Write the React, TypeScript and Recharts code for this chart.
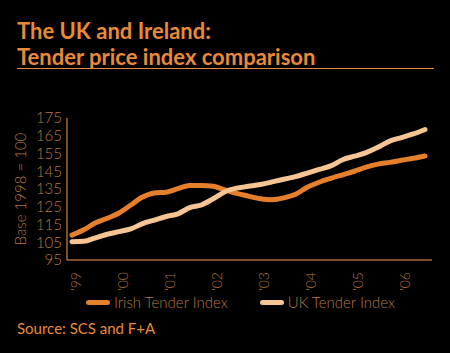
import React from "react"
import { LineChart, Line, XAxis, YAxis } from "recharts"

const quarters = [
  "1999 Q1", "1999 Q2", "1999 Q3", "1999 Q4",
  "2000 Q1", "2000 Q2", "2000 Q3", "2000 Q4",
  "2001 Q1", "2001 Q2", "2001 Q3", "2001 Q4",
  "2002 Q1", "2002 Q2", "2002 Q3", "2002 Q4",
  "2003 Q1", "2003 Q2", "2003 Q3", "2003 Q4",
  "2004 Q1", "2004 Q2", "2004 Q3", "2004 Q4",
  "2005 Q1", "2005 Q2", "2005 Q3", "2005 Q4",
  "2006 Q1", "2006 Q2", "2006 Q3",
]

const irish = [
  109, 112, 116, 118.5, 121.5, 126, 130.5, 132.8,
  133.2, 135.2, 137, 137, 136.5, 134.5, 132.5, 131,
  129.5, 129, 130, 132, 136, 138.8, 141, 143,
  145, 147.3, 149, 150, 151.2, 152.3, 153.6,
]

const uk = [
  105.3, 105.5, 107.5, 109.5, 111, 112.5, 115.5, 117.5,
  119.5, 121, 124.5, 126, 129.5, 133.5, 135.5, 136.5,
  137.5, 139, 140.5, 142, 144, 146, 148, 151.5,
  153.5, 155.5, 158.5, 162, 164, 166, 168.5,
]

const yearTicks = ["1999 Q1", "2000 Q1", "2001 Q1", "2002 Q1", "2003 Q1", "2004 Q1", "2005 Q1", "2006 Q1"]
const yearLabels = ["'99", "'00", "'01", "'02", "'03", "'04", "'05", "'06"]
const yTicks = [95, 105, 115, 125, 135, 145, 155, 165, 175]

const seriesNames = ["Irish Tender Index", "UK Tender Index"]

const data = quarters.map((q, i) => ({ quarter: q, irish: irish[i], uk: uk[i] }))

const ORANGE = "#e98a38"
const DARK_LINE = "#e57f2b"
const LIGHT_LINE = "#f6c593"
const AXIS = "#a86a34"
const TICK_TEXT = "#b5773f"
const FONT = "Lato, 'Open Sans', sans-serif"

function YearTick({ x, y, payload }: any) {
  const idx = yearTicks.indexOf(payload.value)
  return (
    <text
      transform={`translate(${x + 4},${y + 4}) rotate(-90)`}
      textAnchor="end"
      dy="0.35em"
      fill={TICK_TEXT}
      fontSize={14}
      fontFamily={FONT}
      fontWeight={300}
    >
      {yearLabels[idx]}
    </text>
  )
}

const legendItems = [
  { name: seriesNames[0], color: DARK_LINE },
  { name: seriesNames[1], color: LIGHT_LINE },
]

export default function App() {
  return (
    <div style={{ position: "absolute", top: 0, left: 0, width: 450, height: 353, background: "#000", overflow: "hidden" }}>
      <div style={{ position: "absolute", left: 17, top: 17, color: ORANGE, fontFamily: FONT, fontWeight: 700, fontSize: 22, lineHeight: "27px" }}>
        The UK and Ireland:
      </div>
      <div style={{ position: "absolute", left: 17, top: 43, color: ORANGE, fontFamily: FONT, fontWeight: 700, fontSize: 22, lineHeight: "27px" }}>
        Tender price index comparison
      </div>
      <div style={{ position: "absolute", left: 17, top: 68, width: 417, height: 1, background: ORANGE }} />

      <LineChart width={450} height={353} data={data} margin={{ top: 118, right: 18, bottom: 63, left: 0 }}>
        <XAxis
          dataKey="quarter"
          ticks={yearTicks}
          interval={0}
          tick={<YearTick />}
          tickLine={false}
          axisLine={{ stroke: AXIS, strokeWidth: 1.5 }}
          padding={{ left: 5, right: 7 }}
          height={30}
        />
        <YAxis
          domain={[95, 175]}
          ticks={yTicks}
          interval={0}
          width={67}
          tickLine={false}
          tickSize={0}
          tickMargin={5}
          axisLine={{ stroke: AXIS, strokeWidth: 1.5 }}
          tick={{ fill: TICK_TEXT, fontSize: 15, fontFamily: FONT, fontWeight: 300 }}
          label={{
            value: "Base 1998 = 100",
            angle: -90,
            position: "insideLeft",
            offset: 21,
            style: { textAnchor: "middle", fill: TICK_TEXT, fontSize: 15, fontFamily: FONT, fontWeight: 300 },
          }}
        />
        <Line
          type="monotone"
          dataKey="irish"
          name={seriesNames[0]}
          stroke={DARK_LINE}
          strokeWidth={5}
          strokeLinecap="round"
          dot={false}
          isAnimationActive={false}
        />
        <Line
          type="monotone"
          dataKey="uk"
          name={seriesNames[1]}
          stroke={LIGHT_LINE}
          strokeWidth={5}
          strokeLinecap="round"
          dot={false}
          isAnimationActive={false}
        />
      </LineChart>

      <div
        style={{
          position: "absolute",
          left: 86,
          top: 293,
          display: "flex",
          alignItems: "center",
          fontFamily: FONT,
          fontWeight: 300,
          fontSize: 15,
          color: "#b07a48",
        }}
      >
        {legendItems.map((p, i) => (
          <div key={p.name} style={{ display: "flex", alignItems: "center", marginRight: i === 0 ? 32 : 0 }}>
            <span style={{ display: "inline-block", width: 24, height: 5, borderRadius: 3, background: p.color, marginRight: 4 }} />
            <span>{p.name}</span>
          </div>
        ))}
      </div>

      <div style={{ position: "absolute", left: 17, top: 319, color: ORANGE, fontFamily: FONT, fontSize: 15 }}>
        Source: SCS and F+A
      </div>
    </div>
  )
}
